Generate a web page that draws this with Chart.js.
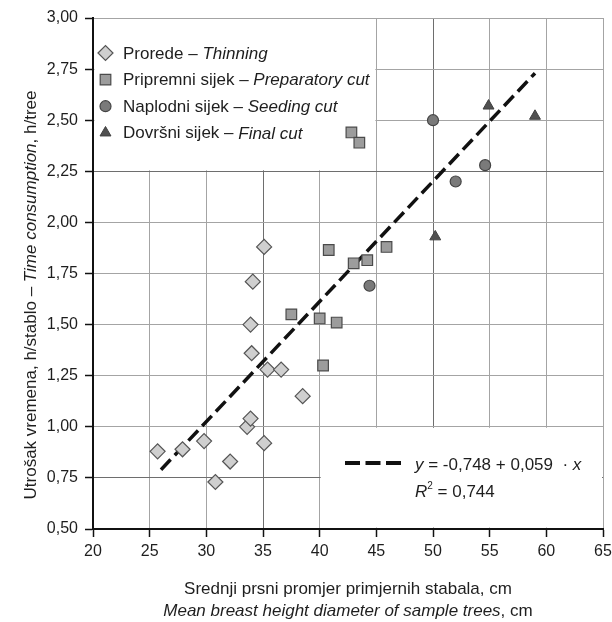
<!DOCTYPE html>
<html><head><meta charset="utf-8">
<script src="https://cdn.jsdelivr.net/npm/chart.js@4/dist/chart.umd.min.js"></script>
<style>html,body{margin:0;padding:0;background:#fff;}</style>
</head><body>
<canvas id="c" width="612" height="622"></canvas>
<script>
// ---- data ----
const thinningX = [25.7, 27.9, 29.8, 30.8, 32.1, 33.6, 33.9, 35.1, 38.5, 35.1, 34.1, 33.9, 34.0, 35.4, 36.6];
const thinningY = [0.88, 0.89, 0.93, 0.73, 0.83, 1.00, 1.04, 0.92, 1.15, 1.88, 1.71, 1.50, 1.36, 1.28, 1.28];
const prepX = [37.5, 40.0, 40.3, 40.8, 41.5, 43.0, 44.2, 45.9, 42.8, 43.5];
const prepY = [1.55, 1.53, 1.30, 1.865, 1.51, 1.80, 1.815, 1.88, 2.44, 2.39];
const seedX = [44.4, 50.0, 52.0, 54.6];
const seedY = [1.69, 2.50, 2.20, 2.28];
const finalX = [50.2, 54.9, 59.0];
const finalY = [1.93, 2.57, 2.52];
const trendX = [26.0, 59.0];
const trendY = [0.79, 2.73];
const seriesNames = [
  ['Prorede – ', 'Thinning'],
  ['Pripremni sijek – ', 'Preparatory cut'],
  ['Naplodni sijek – ', 'Seeding cut'],
  ['Dovršni sijek – ', 'Final cut']
];
const equationText = ['y', ' = -0,748 + 0,059  · ', 'x'];
const r2Text = ['R', '2', ' = 0,744'];
const yTitle = ['Utrošak vremena, h/stablo – ', 'Time consumption', ', h/tree'];
const xTitle1 = 'Srednji prsni promjer primjernih stabala, cm';
const xTitle2 = ['Mean breast height diameter of sample trees', ', cm'];
const xTickValues = [20, 25, 30, 35, 40, 45, 50, 55, 60, 65];
const yTickValues = [0.50, 0.75, 1.00, 1.25, 1.50, 1.75, 2.00, 2.25, 2.50, 2.75, 3.00];

const FAMILY = "'Liberation Sans', Arial, sans-serif";
const TXT = '#1e1e1e';

function pts(xs, ys) { return xs.map((v, i) => ({x: v, y: ys[i]})); }

const markerStyles = [
  {pointStyle: 'rectRot', radius: 7.5, backgroundColor: '#cfcfcf', borderColor: '#555', borderWidth: 1.2},
  {pointStyle: 'rect', radius: 7.5, backgroundColor: '#9c9c9c', borderColor: '#4a4a4a', borderWidth: 1.2},
  {pointStyle: 'circle', radius: 5.5, backgroundColor: '#7a7a7a', borderColor: '#444', borderWidth: 1.2},
  {pointStyle: 'triangle', radius: 6.3, backgroundColor: '#505050', borderColor: '#404040', borderWidth: 1}
];
const seriesData = [pts(thinningX, thinningY), pts(prepX, prepY), pts(seedX, seedY), pts(finalX, finalY)];

const datasets = seriesData.map((d, i) => ({
  label: seriesNames[i].join(''),
  data: d,
  pointStyle: markerStyles[i].pointStyle,
  pointRadius: markerStyles[i].radius,
  pointBackgroundColor: markerStyles[i].backgroundColor,
  pointBorderColor: markerStyles[i].borderColor,
  pointBorderWidth: markerStyles[i].borderWidth,
  order: 1
}));
datasets.push({
  label: 'trend',
  data: pts(trendX, trendY),
  showLine: true,
  borderColor: '#111',
  borderWidth: 3.5,
  borderDash: [14, 6],
  pointRadius: 0,
  order: 10
});

const darkX = [35, 50];
const darkY = [2.25, 0.75];

function drawRuns(ctx, runs, x, y, align) {
  let total = 0;
  const ws = runs.map(r => {
    ctx.font = (r.italic ? 'italic ' : '') + (r.size || 17) + 'px ' + FAMILY;
    const w = ctx.measureText(r.t).width;
    total += w;
    return w;
  });
  let cx = align === 'center' ? x - total / 2 : x;
  runs.forEach((r, i) => {
    ctx.font = (r.italic ? 'italic ' : '') + (r.size || 17) + 'px ' + FAMILY;
    ctx.fillText(r.t, cx, y + (r.dy || 0));
    cx += ws[i];
  });
}

const overlay = {
  id: 'overlay',
  beforeDatasetsDraw(chart) {
    const {ctx, scales: {x, y}} = chart;
    ctx.save();
    ctx.fillStyle = '#fff';
    let l = x.getPixelForValue(20) + 1.5, r = x.getPixelForValue(45) - 1,
        t = y.getPixelForValue(3) + 1, b = y.getPixelForValue(2.25) - 1;
    ctx.fillRect(l, t, r - l, b - t);
    l = x.getPixelForValue(40) + 1; r = x.getPixelForValue(65) - 1;
    t = y.getPixelForValue(1.0) + 1; b = y.getPixelForValue(0.5) - 1.5;
    ctx.fillRect(l, t, r - l, b - t);
    ctx.restore();
  },
  afterDraw(chart) {
    const {ctx, chartArea: ca} = chart;
    ctx.save();
    ctx.fillStyle = TXT;
    ctx.textBaseline = 'middle';
    // legend
    const lx = ca.left + 12.5;
    seriesNames.forEach((nm, i) => {
      const yy = ca.top + 35 + i * 26.6;
      const m = markerStyles[i];
      ctx.save();
      ctx.fillStyle = m.backgroundColor;
      ctx.strokeStyle = m.borderColor;
      ctx.lineWidth = m.borderWidth;
      Chart.helpers.drawPoint(ctx, {pointStyle: m.pointStyle, radius: m.radius, borderWidth: m.borderWidth, rotation: 0}, lx, yy);
      ctx.restore();
      ctx.fillStyle = TXT;
      drawRuns(ctx, [{t: nm[0]}, {t: nm[1], italic: true}], ca.left + 30, yy + 1, 'left');
    });
    // equation box
    ctx.save();
    ctx.strokeStyle = '#111';
    ctx.lineWidth = 4;
    ctx.setLineDash([15, 5.5]);
    ctx.beginPath();
    ctx.moveTo(345, 463); ctx.lineTo(402, 463);
    ctx.stroke();
    ctx.restore();
    drawRuns(ctx, [{t: equationText[0], italic: true}, {t: equationText[1]}, {t: equationText[2], italic: true}], 415, 465, 'left');
    drawRuns(ctx, [{t: r2Text[0], italic: true}, {t: r2Text[1], size: 10, dy: -6}, {t: r2Text[2]}], 415, 492, 'left');
    // x title
    const cx = (ca.left + ca.right) / 2;
    drawRuns(ctx, [{t: xTitle1}], cx, 589, 'center');
    drawRuns(ctx, [{t: xTitle2[0], italic: true}, {t: xTitle2[1]}], cx, 611, 'center');
    // y title
    ctx.save();
    ctx.translate(31, 295);
    ctx.rotate(-Math.PI / 2);
    drawRuns(ctx, [{t: yTitle[0]}, {t: yTitle[1], italic: true}, {t: yTitle[2]}], 0, 0, 'center');
    ctx.restore();
    ctx.restore();
  }
};

new Chart(document.getElementById('c'), {
  type: 'scatter',
  data: {datasets},
  options: {
    responsive: false,
    devicePixelRatio: 1,
    animation: false,
    layout: {padding: {top: 18, right: 9, left: 0, bottom: 0}},
    plugins: {legend: {display: false}, tooltip: {enabled: false}},
    scales: {
      x: {
        type: 'linear', min: 20, max: 65,
        afterBuildTicks: s => { s.ticks = xTickValues.map(v => ({value: v})); },
        ticks: {color: TXT, font: {family: FAMILY, size: 16}, padding: 5, callback: v => String(v)},
        grid: {color: c => darkX.includes(c.tick && c.tick.value) ? '#6e6e6e' : '#a4a4a4', lineWidth: 1,
               tickLength: 8, tickColor: '#111', tickWidth: 1.5},
        border: {color: '#111', width: 2},
        afterFit: s => { s.height = 93; s.paddingLeft = 0; s.paddingRight = 0; }
      },
      y: {
        type: 'linear', min: 0.5, max: 3,
        afterBuildTicks: s => { s.ticks = yTickValues.map(v => ({value: v})); },
        ticks: {color: TXT, font: {family: FAMILY, size: 16}, padding: 7, callback: v => Number(v).toFixed(2).replace('.', ',')},
        grid: {color: c => darkY.includes(c.tick && c.tick.value) ? '#6e6e6e' : '#a4a4a4', lineWidth: 1,
               tickLength: 8, tickColor: '#111', tickWidth: 1.5},
        border: {color: '#111', width: 2},
        afterFit: s => { s.width = 93; s.paddingTop = 0; s.paddingBottom = 0; }
      }
    }
  },
  plugins: [overlay]
});
</script>
</body></html>
